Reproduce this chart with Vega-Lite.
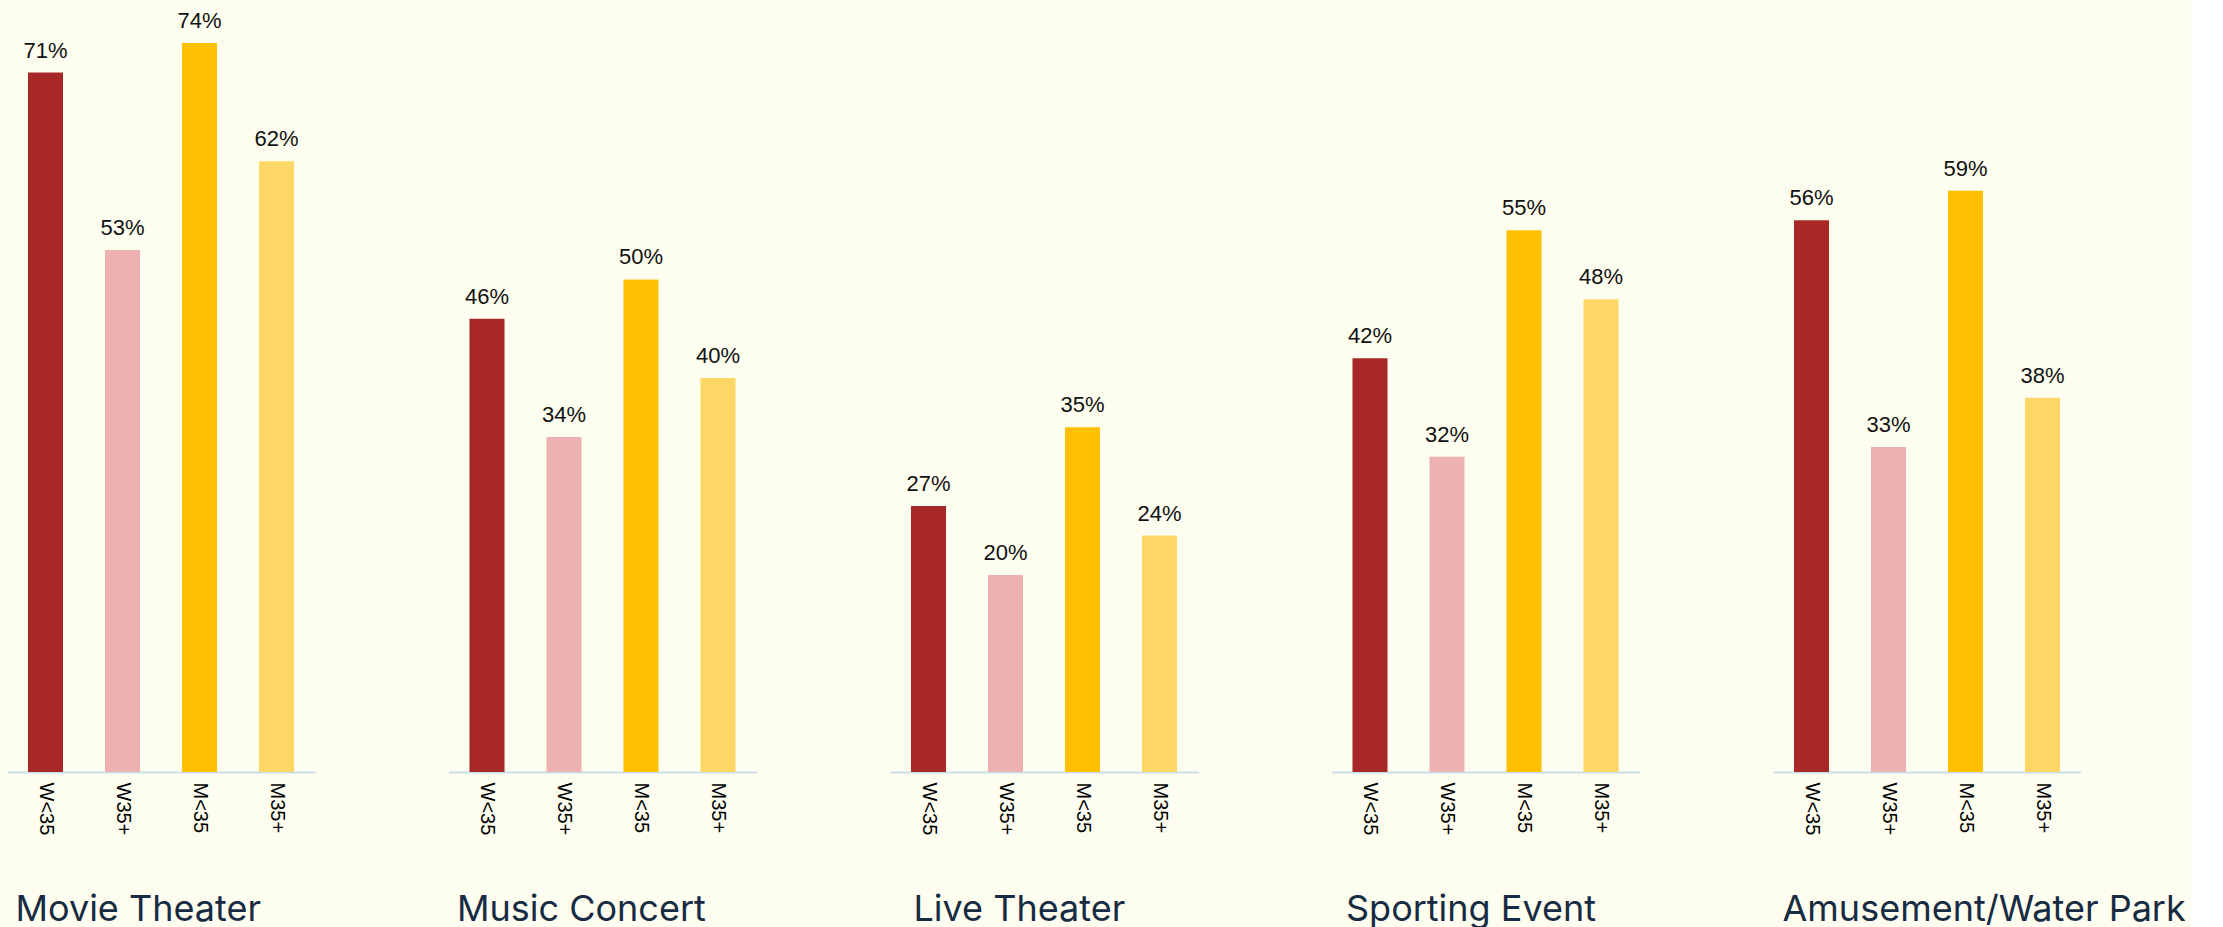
{
  "$schema": "https://vega.github.io/schema/vega-lite/v6.json",
  "background": "#fefef0",
  "padding": {"left": 7, "top": 10, "right": 5, "bottom": 0},
  "data": {"values": [
    {"activity": "Movie Theater", "group": "W<35", "value": 0.71},
    {"activity": "Movie Theater", "group": "W35+", "value": 0.53},
    {"activity": "Movie Theater", "group": "M<35", "value": 0.74},
    {"activity": "Movie Theater", "group": "M35+", "value": 0.62},
    {"activity": "Music Concert", "group": "W<35", "value": 0.46},
    {"activity": "Music Concert", "group": "W35+", "value": 0.34},
    {"activity": "Music Concert", "group": "M<35", "value": 0.50},
    {"activity": "Music Concert", "group": "M35+", "value": 0.40},
    {"activity": "Live Theater", "group": "W<35", "value": 0.27},
    {"activity": "Live Theater", "group": "W35+", "value": 0.20},
    {"activity": "Live Theater", "group": "M<35", "value": 0.35},
    {"activity": "Live Theater", "group": "M35+", "value": 0.24},
    {"activity": "Sporting Event", "group": "W<35", "value": 0.42},
    {"activity": "Sporting Event", "group": "W35+", "value": 0.32},
    {"activity": "Sporting Event", "group": "M<35", "value": 0.55},
    {"activity": "Sporting Event", "group": "M35+", "value": 0.48},
    {"activity": "Amusement/Water Park", "group": "W<35", "value": 0.56},
    {"activity": "Amusement/Water Park", "group": "W35+", "value": 0.33},
    {"activity": "Amusement/Water Park", "group": "M<35", "value": 0.59},
    {"activity": "Amusement/Water Park", "group": "M35+", "value": 0.38}
  ]},
  "spacing": 133.5,
  "bounds": "flush",
  "hconcat": [
    {
      "width": 308, "height": 729,
      "transform": [{"filter": "datum.activity === 'Movie Theater'"}],
      "encoding": {
        "x": {"field": "group", "type": "nominal", "sort": ["W<35", "W35+", "M<35", "M35+"], "scale": {"paddingInner": 0.545, "paddingOuter": 0.2725}, "axis": {"title": "Movie Theater", "titleX": 8}},
        "y": {"field": "value", "type": "quantitative", "scale": {"domain": [0, 0.74], "nice": false}, "axis": null}
      },
      "layer": [
        {"mark": {"type": "bar"}, "encoding": {"color": {"field": "group", "type": "nominal", "scale": {"domain": ["W<35", "W35+", "M<35", "M35+"], "range": ["#a82828", "#eeb1b1", "#fec000", "#fed766"]}, "legend": null}}},
        {"mark": {"type": "text", "dy": -15, "baseline": "alphabetic", "fontSize": 22, "font": "Liberation Sans", "color": "#111111"}, "encoding": {"text": {"field": "value", "format": ".0%"}}}
      ]
    },
    {
      "width": 308, "height": 729,
      "transform": [{"filter": "datum.activity === 'Music Concert'"}],
      "encoding": {
        "x": {"field": "group", "type": "nominal", "sort": ["W<35", "W35+", "M<35", "M35+"], "scale": {"paddingInner": 0.545, "paddingOuter": 0.2725}, "axis": {"title": "Music Concert", "titleX": 8}},
        "y": {"field": "value", "type": "quantitative", "scale": {"domain": [0, 0.74], "nice": false}, "axis": null}
      },
      "layer": [
        {"mark": {"type": "bar"}, "encoding": {"color": {"field": "group", "type": "nominal", "scale": {"domain": ["W<35", "W35+", "M<35", "M35+"], "range": ["#a82828", "#eeb1b1", "#fec000", "#fed766"]}, "legend": null}}},
        {"mark": {"type": "text", "dy": -15, "baseline": "alphabetic", "fontSize": 22, "font": "Liberation Sans", "color": "#111111"}, "encoding": {"text": {"field": "value", "format": ".0%"}}}
      ]
    },
    {
      "width": 308, "height": 729,
      "transform": [{"filter": "datum.activity === 'Live Theater'"}],
      "encoding": {
        "x": {"field": "group", "type": "nominal", "sort": ["W<35", "W35+", "M<35", "M35+"], "scale": {"paddingInner": 0.545, "paddingOuter": 0.2725}, "axis": {"title": "Live Theater", "titleX": 23}},
        "y": {"field": "value", "type": "quantitative", "scale": {"domain": [0, 0.74], "nice": false}, "axis": null}
      },
      "layer": [
        {"mark": {"type": "bar"}, "encoding": {"color": {"field": "group", "type": "nominal", "scale": {"domain": ["W<35", "W35+", "M<35", "M35+"], "range": ["#a82828", "#eeb1b1", "#fec000", "#fed766"]}, "legend": null}}},
        {"mark": {"type": "text", "dy": -15, "baseline": "alphabetic", "fontSize": 22, "font": "Liberation Sans", "color": "#111111"}, "encoding": {"text": {"field": "value", "format": ".0%"}}}
      ]
    },
    {
      "width": 308, "height": 729,
      "transform": [{"filter": "datum.activity === 'Sporting Event'"}],
      "encoding": {
        "x": {"field": "group", "type": "nominal", "sort": ["W<35", "W35+", "M<35", "M35+"], "scale": {"paddingInner": 0.545, "paddingOuter": 0.2725}, "axis": {"title": "Sporting Event", "titleX": 14}},
        "y": {"field": "value", "type": "quantitative", "scale": {"domain": [0, 0.74], "nice": false}, "axis": null}
      },
      "layer": [
        {"mark": {"type": "bar"}, "encoding": {"color": {"field": "group", "type": "nominal", "scale": {"domain": ["W<35", "W35+", "M<35", "M35+"], "range": ["#a82828", "#eeb1b1", "#fec000", "#fed766"]}, "legend": null}}},
        {"mark": {"type": "text", "dy": -15, "baseline": "alphabetic", "fontSize": 22, "font": "Liberation Sans", "color": "#111111"}, "encoding": {"text": {"field": "value", "format": ".0%"}}}
      ]
    },
    {
      "width": 308, "height": 729,
      "transform": [{"filter": "datum.activity === 'Amusement/Water Park'"}],
      "encoding": {
        "x": {"field": "group", "type": "nominal", "sort": ["W<35", "W35+", "M<35", "M35+"], "scale": {"paddingInner": 0.545, "paddingOuter": 0.2725}, "axis": {"title": "Amusement/Water Park", "titleX": 9}},
        "y": {"field": "value", "type": "quantitative", "scale": {"domain": [0, 0.74], "nice": false}, "axis": null}
      },
      "layer": [
        {"mark": {"type": "bar"}, "encoding": {"color": {"field": "group", "type": "nominal", "scale": {"domain": ["W<35", "W35+", "M<35", "M35+"], "range": ["#a82828", "#eeb1b1", "#fec000", "#fed766"]}, "legend": null}}},
        {"mark": {"type": "text", "dy": -15, "baseline": "alphabetic", "fontSize": 22, "font": "Liberation Sans", "color": "#111111"}, "encoding": {"text": {"field": "value", "format": ".0%"}}}
      ]
    }
  ],
  "config": {
    "view": {"stroke": null},
    "axisX": {
      "domainColor": "#cddcea",
      "domainWidth": 2,
      "ticks": false,
      "grid": false,
      "labelAngle": 90,
      "labelFontSize": 20,
      "labelFont": "Liberation Sans",
      "labelColor": "#000000",
      "labelPadding": 10,
      "titleFont": "Inter",
      "titleFontSize": 36,
      "titleFontWeight": "normal",
      "titleColor": "#172b43",
      "titleAlign": "left",
      "titleAnchor": "start",
      "titleBaseline": "alphabetic",
      "titleY": 148
    }
  }
}
